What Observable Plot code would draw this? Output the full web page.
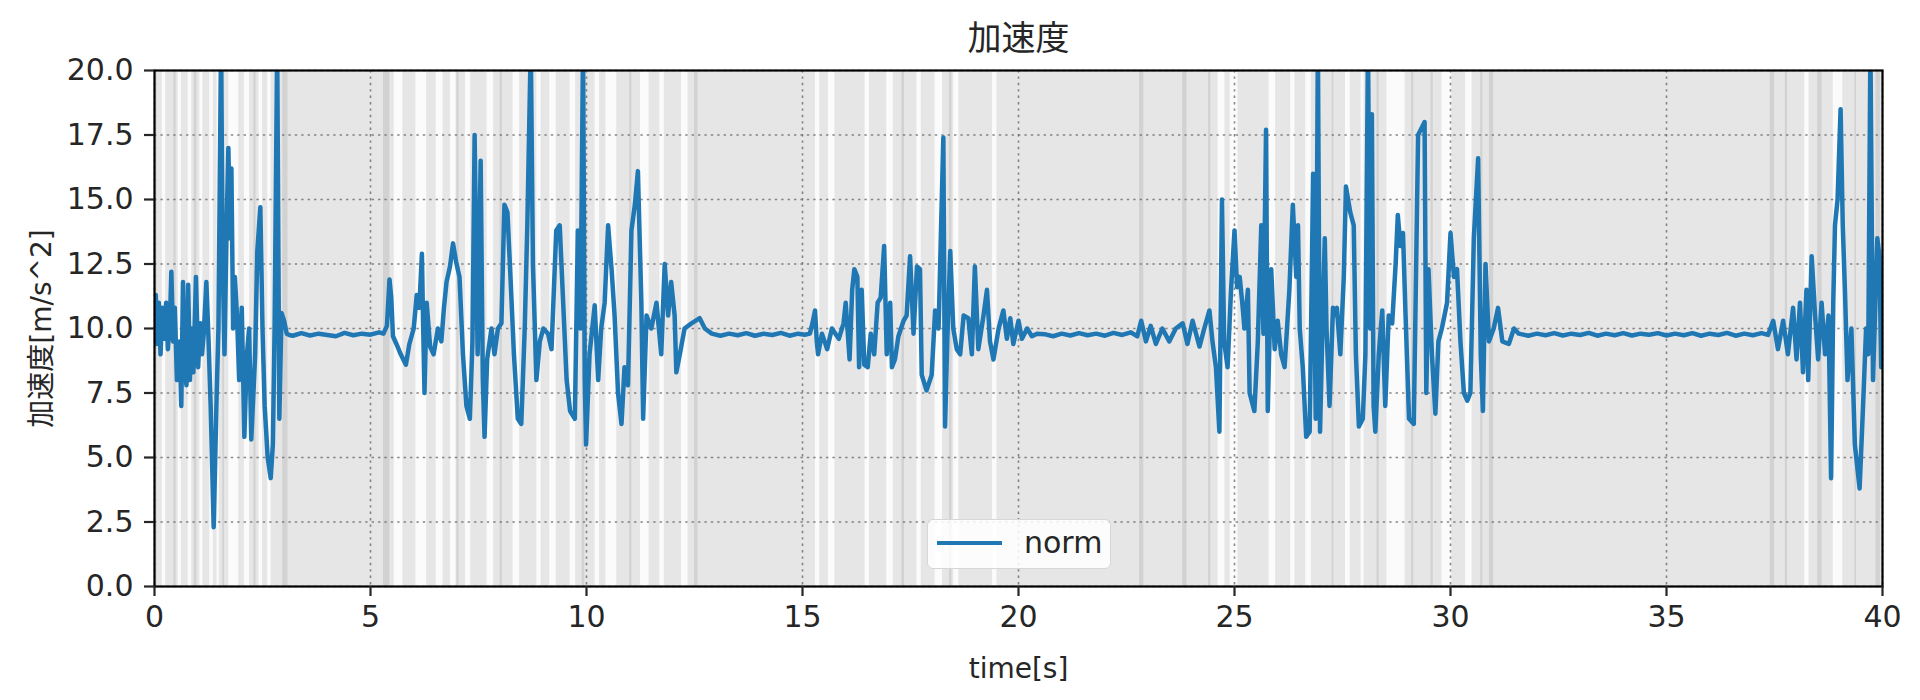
<!DOCTYPE html>
<html>
<head>
<meta charset="utf-8">
<script src="https://cdn.jsdelivr.net/npm/d3@7"></script>
<script src="https://cdn.jsdelivr.net/npm/@observablehq/plot@0.6"></script>
<style>
  html, body { margin: 0; padding: 0; background: #fff; }
  #wrap { position: relative; width: 1920px; height: 700px; }
  #legend {
    position: absolute; left: 927px; top: 519px; width: 184px; height: 50px;
    background: rgba(255,255,255,0.85); border: 1.5px solid #d6d6d6; border-radius: 6px;
    box-sizing: border-box;
    font-family: 'DejaVu Sans', 'Noto Sans CJK JP', sans-serif; font-size: 30px; color: #262626;
  }
  #legend .sw { position: absolute; left: 9px; top: 21px; width: 65px; height: 0; border-top: 4.5px solid #1f77b4; }
  #legend .lb { position: absolute; left: 96px; top: 4px; line-height: 38px; }
</style>
</head>
<body>
<div id="wrap"></div>
<script>
// ---- data ----
const chartTitle = "加速度";
const xLabel = "time[s]";
const yLabel = "加速度[m/s^2]";
const seriesName = "norm";
const xTicks = [0, 5, 10, 15, 20, 25, 30, 35, 40];
const yTicks = [0, 2.5, 5, 7.5, 10, 12.5, 15, 17.5, 20];

const timeS = [
  0.00,0.03,0.06,0.10,0.14,0.18,0.22,0.27,0.31,0.36,0.39,0.43,0.47,0.52,0.58,0.62,0.66,0.70,0.74,0.78,
  0.82,0.86,0.90,0.96,1.01,1.06,1.10,1.14,1.20,1.25,1.30,1.37,1.44,1.48,1.54,1.58,1.62,1.67,1.71,1.75,
  1.78,1.82,1.86,1.91,1.96,2.02,2.08,2.14,2.19,2.24,2.29,2.33,2.38,2.45,2.50,2.55,2.62,2.69,2.74,2.78,
  2.84,2.89,2.94,3.00,3.06,3.12,
  3.2,3.4,3.6,3.8,4.0,4.2,4.4,4.6,4.8,5.0,5.2,
  5.30,5.38,5.44,5.48,5.52,5.60,5.70,5.82,5.90,6.00,6.07,6.13,6.19,6.22,6.25,6.30,6.38,6.46,6.56,6.64,
  6.70,6.76,6.84,6.91,6.98,7.06,7.14,7.22,7.30,7.36,7.41,7.48,7.55,7.60,7.64,7.70,7.80,7.87,7.95,8.03,
  8.10,8.17,8.24,8.32,8.41,8.49,8.57,8.63,8.71,8.76,8.84,8.92,9.00,9.11,9.19,9.30,9.38,9.46,9.54,9.62,
  9.73,9.80,9.86,9.92,9.96,9.99,10.07,10.19,10.27,10.34,10.42,10.50,10.58,10.65,10.73,10.81,10.88,10.96,11.04,11.12,
  11.19,11.27,11.31,11.39,11.50,11.62,11.73,11.81,11.89,11.96,12.04,12.08,12.16,12.27,12.43,12.62,12.74,12.90,
  13.1,13.3,13.5,13.7,13.9,14.1,14.3,14.5,14.7,14.9,15.05,
  15.17,15.23,15.29,15.33,15.36,15.45,15.57,15.68,15.84,15.95,16.00,16.09,16.15,16.20,16.27,16.31,16.37,16.43,16.51,16.58,
  16.66,16.74,16.81,16.89,16.95,17.03,17.07,17.14,17.22,17.34,17.41,17.49,17.57,17.65,17.72,17.76,17.87,17.99,18.07,18.15,
  18.26,18.30,18.35,18.42,18.49,18.57,18.65,18.73,18.84,18.92,18.99,19.07,19.19,19.27,19.34,19.42,19.54,19.65,19.73,19.81,
  19.88,20.00,20.08,20.20,20.31,20.43,
  20.6,20.8,21.0,21.2,21.4,21.6,21.8,22.0,22.2,22.4,22.6,22.75,
  22.84,22.95,23.06,23.18,23.33,23.49,23.64,23.80,23.91,24.03,24.19,24.30,24.42,24.49,24.57,24.65,24.71,24.76,24.84,24.92,
  25.00,25.06,25.12,25.18,25.23,25.31,25.35,25.46,25.54,25.62,25.67,25.73,25.77,25.85,25.93,26.00,26.08,26.16,26.27,26.35,
  26.43,26.47,26.51,26.58,26.66,26.74,26.82,26.88,26.93,26.98,27.05,27.09,27.13,27.20,27.28,
  27.30,27.37,27.45,27.53,27.58,27.68,27.76,27.81,27.88,27.97,28.03,28.09,28.14,28.18,28.22,28.26,28.34,28.42,28.49,28.57,
  28.65,28.73,28.78,28.84,28.90,28.96,29.04,29.15,29.25,29.34,29.40,29.44,29.49,29.57,29.65,29.72,29.80,29.92,30.00,30.08,
  30.15,30.23,30.31,30.39,30.46,30.54,30.64,30.70,30.75,30.81,30.89,31.00,31.10,31.20,31.35,31.47,31.58,
  31.8,32.0,32.2,32.4,32.6,32.8,33.0,33.2,33.4,33.6,33.8,34.0,34.2,34.4,34.6,34.8,35.0,35.2,35.4,35.6,
  35.8,36.0,36.2,36.4,36.6,36.8,37.0,37.2,
  37.35,37.47,37.58,37.70,37.81,37.93,38.01,38.09,38.16,38.24,38.28,38.36,38.44,38.51,38.59,38.67,38.75,38.81,38.86,38.90,
  38.96,39.03,39.08,39.13,39.19,39.28,39.36,39.47,39.55,39.62,39.67,39.72,39.78,39.88,39.93,39.97,40.00
];

const accelNorm = [
  10.6,11.3,9.4,11.0,9.0,10.8,9.6,11.0,9.2,10.5,12.2,9.5,10.8,8.0,9.5,7.0,11.8,8.5,7.8,11.7,
  8.0,10.0,8.3,12.0,8.5,10.2,9.0,9.8,11.8,9.6,7.0,2.3,7.5,10.0,21.0,12.5,9.0,14.0,17.0,13.5,
  16.2,10.0,12.0,10.5,8.0,10.8,5.8,9.0,10.0,5.7,7.5,9.0,13.0,14.7,10.0,7.0,5.0,4.2,5.5,10.0,
  21.0,6.5,10.6,10.3,9.8,9.75,
  9.72,9.82,9.73,9.8,9.75,9.7,9.83,9.74,9.8,9.76,9.85,
  9.8,10.1,11.9,11.2,9.7,9.4,9.0,8.6,9.4,10.0,11.3,10.8,12.9,10.0,7.5,11.0,9.3,9.0,10.0,9.5,
  10.8,11.8,12.4,13.3,12.6,12.0,9.0,7.0,6.5,9.5,17.5,9.0,16.5,8.0,5.8,8.8,10.0,9.0,10.0,10.2,
  14.8,14.5,12.0,9.0,6.5,6.3,10.0,14.0,21.0,12.5,8.0,9.5,10.0,9.8,9.2,13.8,14.0,11.0,8.0,6.8,
  6.5,13.8,10.0,21.0,8.0,5.5,9.0,10.9,8.0,10.0,11.0,14.0,12.3,10.5,7.5,6.3,8.5,7.8,13.8,14.8,
  16.1,11.0,6.5,10.5,10.0,11.0,9.0,12.5,10.5,11.8,10.5,8.3,9.0,10.0,10.2,10.4,10.0,9.8,
  9.72,9.8,9.74,9.82,9.72,9.8,9.75,9.83,9.72,9.8,9.76,
  9.8,10.2,10.7,9.5,9.0,9.8,9.2,10.0,9.6,10.2,11.0,8.8,11.5,12.3,12.0,8.5,11.5,8.6,8.5,9.8,
  9.0,11.0,11.2,13.2,9.0,11.0,8.5,8.8,9.7,10.3,10.5,12.8,9.8,12.4,12.3,8.2,7.6,8.2,10.7,10.0,
  17.4,6.2,9.5,13.0,10.0,9.2,9.0,10.5,10.4,9.0,12.4,9.2,10.5,11.5,9.5,8.8,10.0,10.7,9.6,10.4,
  9.4,10.3,9.6,10.0,9.7,9.8,
  9.78,9.7,9.8,9.73,9.82,9.74,9.8,9.72,9.83,9.75,9.85,9.7,
  10.3,9.5,10.1,9.4,10.0,9.5,10.0,10.2,9.4,10.3,9.3,10.0,10.7,9.5,8.5,6.0,15.0,9.5,8.5,11.5,
  13.8,11.6,12.0,11.0,10.0,11.5,7.5,6.8,9.5,14.0,9.8,17.7,6.8,12.3,9.2,10.3,9.0,8.5,11.5,14.8,
  12.0,14.0,10.0,8.5,5.8,6.0,16.0,6.5,21.0,6.0,11.0,13.5,10.0,7.0,10.8,
  10.5,10.8,9.0,12.0,15.5,14.5,14.0,9.0,6.2,6.5,9.0,21.0,10.0,18.3,7.0,6.0,9.0,10.7,7.0,10.5,
  10.2,12.5,14.4,13.2,13.7,10.5,6.5,6.3,17.5,17.8,18.0,7.5,12.3,9.0,6.7,9.5,10.0,11.0,13.7,12.0,
  12.3,9.5,7.5,7.2,7.5,13.5,16.6,9.0,6.8,12.5,9.5,10.0,10.8,9.5,9.4,10.0,9.8,
  9.72,9.8,9.74,9.82,9.73,9.8,9.75,9.83,9.72,9.8,9.74,9.82,9.73,9.8,9.76,9.82,9.73,9.8,9.74,9.82,
  9.72,9.8,9.75,9.83,9.72,9.8,9.74,9.82,
  9.75,10.3,9.2,10.3,9.0,10.8,8.8,11.0,8.3,11.5,8.0,12.8,10.5,8.8,11.0,9.0,10.5,4.2,11.0,14.0,
  15.0,18.5,14.0,11.5,8.0,10.0,5.5,3.8,7.0,10.0,9.0,21.0,8.0,13.5,12.8,8.5,10.4
];

// shaded background intervals [start, end] in seconds
const whiteGaps = [
  [0.18,0.26],[0.55,0.62],[0.78,0.86],[1.05,1.12],[1.28,1.36],[1.45,1.50],[1.72,1.95],[2.08,2.20],
  [2.42,2.50],[2.62,2.70],[5.55,5.75],[6.05,6.30],[6.52,6.68],[6.85,6.98],[7.20,7.32],[7.70,7.85],
  [8.30,8.45],[8.85,8.95],[9.15,9.30],[9.62,9.75],[10.20,10.30],[10.45,10.70],[11.25,11.45],[11.70,11.80],
  [12.20,12.35],[15.30,15.40],[15.60,15.75],[16.45,16.55],[16.95,17.10],[17.65,17.75],[18.07,18.24],
  [18.50,18.62],[19.40,19.50],[24.62,24.78],[24.90,25.08],[25.80,25.95],[26.30,26.40],[26.65,26.78],
  [27.57,27.68],[27.93,28.00],[28.53,28.95],[29.80,30.03],[30.35,30.50],[38.20,38.30],[38.86,39.08]
];
const darkStripes = [
  [0.00,0.06],[0.45,0.50],[0.92,0.98],[1.58,1.62],[2.30,2.35],[2.97,3.09],[5.30,5.45],[7.00,7.05],
  [8.00,8.05],[9.90,9.96],[11.00,11.05],[12.50,12.58],[17.30,17.36],[18.40,18.46],[22.80,22.90],
  [23.80,23.90],[24.40,24.45],[27.26,27.30],[28.30,28.35],[29.10,29.15],[29.55,29.60],[30.70,30.75],
  [30.90,31.00],[37.40,37.50],[37.75,37.80],[38.50,38.60],[39.36,39.40],[39.85,39.95]
];

// ---- build chart ----
const rows = timeS.map((t, i) => ({t, v: accelNorm[i]}));
const font = "'DejaVu Sans', 'Noto Sans CJK JP', sans-serif";

const chart = Plot.plot({
  width: 1920,
  height: 700,
  marginTop: 70,
  marginBottom: 114,
  marginLeft: 154,
  marginRight: 38,
  style: {fontFamily: font, background: "#fff", color: "#262626"},
  x: {domain: [0, 40], label: null},
  y: {domain: [0, 20], label: null},
  marks: [
    Plot.frame({fill: "#e6e6e6"}),
    Plot.rect(whiteGaps, {x1: d => d[0], x2: d => d[1], y1: 0, y2: 20, fill: "#fbfbfb"}),
    Plot.rect(darkStripes, {x1: d => d[0], x2: d => d[1], y1: 0, y2: 20, fill: "#d2d2d2"}),
    Plot.gridX(xTicks, {stroke: "#6a6a6a", strokeOpacity: 0.8, strokeWidth: 1.6, strokeDasharray: "2.4,4"}),
    Plot.gridY(yTicks, {stroke: "#6a6a6a", strokeOpacity: 0.8, strokeWidth: 1.6, strokeDasharray: "2.4,4"}),
    Plot.line(rows, {x: "t", y: "v", stroke: "#1f77b4", strokeWidth: 4.5, clip: true}),
    Plot.frame({stroke: "#000", strokeWidth: 2.2}),
    Plot.axisX({ticks: xTicks, tickSize: 10, tickPadding: 9, fontSize: 30, strokeWidth: 2.2, tickFormat: d => String(d), label: null}),
    Plot.axisY({ticks: yTicks, tickSize: 10, tickPadding: 11, fontSize: 30, strokeWidth: 2.2, tickFormat: d3.format(".1f"), label: null}),
    Plot.text([chartTitle], {frameAnchor: "top", lineAnchor: "middle", textAnchor: "middle", dy: -31, fontSize: 34, fill: "#262626"}),
    Plot.text([xLabel], {frameAnchor: "bottom", lineAnchor: "middle", textAnchor: "middle", dy: 83, fontSize: 28, fill: "#262626"}),
    Plot.text([yLabel], {frameAnchor: "left", lineAnchor: "middle", textAnchor: "middle", dx: -112, rotate: -90, fontSize: 28, fill: "#262626"})
  ]
});

const wrap = document.getElementById("wrap");
wrap.appendChild(chart);
const legend = document.createElement("div");
legend.id = "legend";
legend.innerHTML = `<div class="sw"></div><div class="lb"></div>`;
legend.querySelector(".lb").textContent = seriesName;
wrap.appendChild(legend);
</script>
</body>
</html>
